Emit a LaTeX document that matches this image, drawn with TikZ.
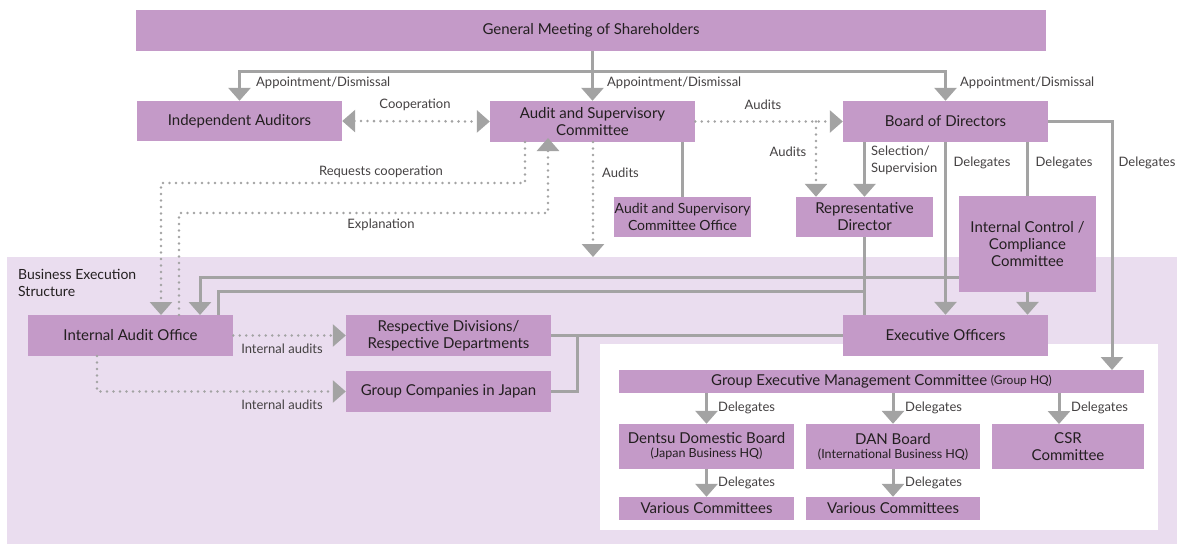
\documentclass[tikz,border=0pt]{standalone}
\usepackage{fontspec}
\setmainfont{Lato}
\usetikzlibrary{arrows.meta,calc}
\definecolor{boxc}{HTML}{C49AC8}
\definecolor{bgc}{HTML}{EADDEF}
\definecolor{lnc}{HTML}{A3A3A3}
\definecolor{txc}{HTML}{231F20}
\tikzset{
 box/.style={fill=boxc, inner sep=0pt, text=txc, font=\fontsize{15}{17}\selectfont, align=center},
 lbl/.style={text=txc!85, font=\fontsize{13}{17}\selectfont, inner sep=0pt},
 ln/.style={draw=lnc, line width=3pt},
 dotl/.style={draw=lnc, line width=2.8pt, dash pattern=on 0pt off 6.5pt, line cap=round},
 tip/.style={-{Triangle[width=22pt,length=13pt,fill=lnc]}},
 tips/.style={{Triangle[width=22pt,length=13pt,fill=lnc]}-{Triangle[width=22pt,length=13pt,fill=lnc]}},
}
\begin{document}
\begin{tikzpicture}[x=1pt,y=-1pt]
\useasboundingbox (0,0) rectangle (1177,544);
\fill[white] (0,0) rectangle (1177,544);
\fill[bgc] (7,257) rectangle (1177,544);
\fill[white] (600,344) rectangle (1158,530);
\node[anchor=north west, align=left, inner sep=0pt, text=txc, font=\fontsize{14}{17}\selectfont] (bes) at (18,269) {Business Execution\\Structure};

% boxes
\node[box, minimum width=910pt, minimum height=41pt] (gm) at (591,30.5) {General Meeting of Shareholders};
\node[box, minimum width=205pt, minimum height=40pt] (ia) at (239.5,121) {Independent Auditors};
\node[box, minimum width=205pt, minimum height=41pt] (asc) at (592.5,121.5) {Audit and Supervisory\\Committee};
\node[box, minimum width=205pt, minimum height=41pt] (bod) at (945.5,121.5) {Board of Directors};
\node[box, minimum width=137pt, minimum height=40pt, font=\fontsize{14}{17}\selectfont] (asco) at (682.5,217) {Audit and Supervisory\\Committee Office};
\node[box, minimum width=137pt, minimum height=40pt] (rd) at (864.5,217) {Representative\\Director};
\node[box, minimum width=137pt, minimum height=96pt] (icc) at (1027.5,244) {Internal Control /\\Compliance\\Committee};
\node[box, minimum width=205pt, minimum height=41pt] (iao) at (130.5,335.5) {Internal Audit Office};
\node[box, minimum width=205pt, minimum height=41pt] (rdd) at (448.5,335.5) {Respective Divisions/\\Respective Departments};
\node[box, minimum width=205pt, minimum height=41pt] (gcj) at (448.5,391.5) {Group Companies in Japan};
\node[box, minimum width=205pt, minimum height=41pt] (eo) at (945.5,335.5) {Executive Officers};
\node[box, minimum width=525pt, minimum height=23pt] (gemc) at (881.5,381.5) {Group Executive Management Committee \raisebox{1.5pt}{\fontsize{12}{13}\selectfont(Group HQ)}};
\node[box, minimum width=175pt, minimum height=45pt] (ddb) at (706.5,446.5) {Dentsu Domestic Board\\[-3pt]{\fontsize{12.5}{14}\selectfont (Japan Business HQ)}};
\node[box, minimum width=174pt, minimum height=45pt] (dan) at (893,446.5) {DAN Board\\[-3pt]{\fontsize{12.5}{14}\selectfont (International Business HQ)}};
\node[box, minimum width=152pt, minimum height=45pt] (csr) at (1068,446.5) {CSR\\Committee};
\node[box, minimum width=175pt, minimum height=23pt] (vc1) at (706.5,508.5) {Various Committees};
\node[box, minimum width=174pt, minimum height=23pt] (vc2) at (893,508.5) {Various Committees};

% coordinates
\coordinate (h1) at (591,71);
\coordinate (a1) at (816,121.5);
\coordinate (gr) at (1112,370);
\coordinate (iaoA) at (200,315);
\coordinate (iaoB) at (218,315);
\coordinate (iaoC) at (161,315);
\coordinate (iaoD) at (179,315);
\coordinate (rq) at (525,142);
\coordinate (ex) at (548,142);
\coordinate (au) at (593,142);
\coordinate (auE) at (593,257);
\coordinate (ia2) at (97,356);
\coordinate (csrT) at (1059,424);

% GM connectors
\draw[ln,tip] (gm.south -| asc.north) -- (asc.north);
\draw[ln,tip] (h1) -| (ia.north);
\draw[ln,tip] (h1) -| (bod.north);
\node[lbl,anchor=west] (l1) at (256,83) {Appointment/Dismissal};
\node[lbl,anchor=west] (l2) at (607,83) {Appointment/Dismissal};
\node[lbl,anchor=west] (l3) at (960,83) {Appointment/Dismissal};

% cooperation and audits
\draw[dotl,tips] (ia.east) -- (asc.west);
\node[lbl] (l4) at (415,105) {Cooperation};
\draw[dotl,tip] (asc.east) -- (bod.west);
\node[lbl] (l5) at (763,105) {Audits};
\draw[dotl,tip] (a1) -- (a1 |- rd.north);
\node[lbl] (l6) at (788,152) {Audits};
\draw[ln,tip] (bod.south -| rd.north) -- (rd.north);
\node[lbl,anchor=north west,align=left] (l7) at (871,146) {Selection/\\Supervision};
\draw[ln,tip] (bod.south) -- (eo.north);
\node[lbl] (l8) at (982,163) {Delegates};
\draw[ln] (bod.south -| icc.north) -- (icc.north);
\node[lbl] (l9) at (1064,163) {Delegates};
\draw[ln,tip] (bod.east) -| (gr);
\node[lbl] (l10) at (1147,163) {Delegates};
\draw[ln,tip] (icc.south) -- (icc.south |- eo.north);
\draw[ln] (rd.south) -- (rd.south |- eo.north);

% to internal audit office
\draw[ln,tip] ([yshift=15pt]icc.south west) -| (iaoA);
\draw[ln] ($(rd.south)+(0,54)$) -| (iaoB);
\draw[dotl,tip] (rq) |- (343,183) -| (iaoC);
\node[lbl] (l11) at (381,172) {Requests cooperation};
\draw[dotl,tip,shorten >=-4pt] (iaoD) |- (343,213) -| (ex);
\node[lbl] (l12) at (381,225) {Explanation};
\draw[dotl,tip] (au) -- (auE);
\node[lbl,anchor=west] (l13) at (602,173) {Audits};
\draw[ln] (asc.south -| asco.north) -- (asco.north);

% internal audits
\draw[dotl,tip] (iao.east) -- (rdd.west);
\node[lbl] (l14) at (282,349) {Internal audits};
\draw[dotl,tip] (ia2) |- (gcj.west);
\node[lbl] (l15) at (282,405) {Internal audits};
\draw[ln] (rdd.east) -- (eo.west);
\draw[ln] (gcj.east) -| (577,335.5);

% group
\draw[ln,tip] (gemc.south -| ddb.north) -- (ddb.north);
\node[lbl,anchor=west] (l16) at (718,408) {Delegates};
\draw[ln,tip] (gemc.south -| dan.north) -- (dan.north);
\node[lbl,anchor=west] (l17) at (905,408) {Delegates};
\draw[ln,tip] (gemc.south -| csrT) -- (csrT);
\node[lbl,anchor=west] (l18) at (1071,408) {Delegates};
\draw[ln,tip] (ddb.south) -- (vc1.north);
\node[lbl,anchor=west] (l19) at (718,483) {Delegates};
\draw[ln,tip] (dan.south) -- (vc2.north);
\node[lbl,anchor=west] (l20) at (905,483) {Delegates};
\end{tikzpicture}
\end{document}
